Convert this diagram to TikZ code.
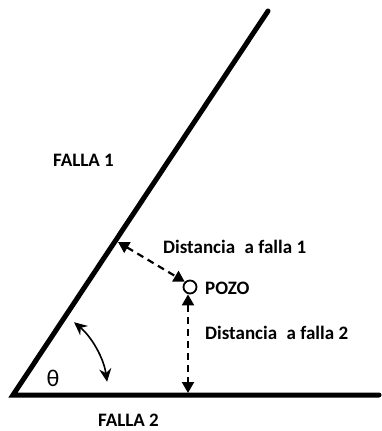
\documentclass[tikz,border=0pt]{standalone}
\usepackage{fontspec}
\setmainfont{Carlito}
\usetikzlibrary{arrows.meta}
\begin{document}
\begin{tikzpicture}[x=1pt,y=-1pt,
  lbl/.style={inner sep=0pt, anchor=west, font=\fontsize{19}{22}\selectfont\bfseries},
  fault/.style={line width=5pt},
  darrow/.style={dashed, line width=2.2pt, dash pattern=on 7pt off 5pt, {Triangle[length=11pt,width=12pt]}-{Triangle[length=11pt,width=12pt]}},
  anglearrow/.style={line width=1.6pt, {Stealth[length=13pt,width=12pt]}-{Stealth[length=13pt,width=12pt]}}]
\useasboundingbox (0,0) rectangle (381,431);
% faults
\coordinate (o) at (13,395);
\coordinate (f1top) at (268,11);
\coordinate (f2end) at (379,395);
\draw[fault, line cap=round] (f1top) -- (o) -- (f2end);
% well
\node[circle, draw, line width=1.8pt, minimum size=13pt, inner sep=0pt] (pozo) at (190,287) {};
% foot points on faults
\coordinate (p1) at (118,242);
\coordinate (p2) at (188,393);
\draw[darrow] (p1) -- (pozo.north west);
\draw[darrow] (pozo.south -| p2) -- (p2);
% angle arrow
\draw[anglearrow] (o) ++(-50:95) arc[start angle=-50, end angle=-8, radius=95];
% labels
\node[lbl] (falla1) at (53,160) {FALLA 1};
\node[lbl] (falla2) at (98,420) {FALLA 2};
\node[lbl] (dist1) at (163,247) {Distancia\hspace{0.5em}a falla 1};
\node[lbl] (dist2) at (205,333) {Distancia\hspace{0.5em}a falla 2};
\node[lbl] (pozolbl) at (205,288) {POZO};
\node[inner sep=0pt, font=\fontsize{24}{26}\selectfont] (theta) at (53,378) {θ};
\end{tikzpicture}
\end{document}
